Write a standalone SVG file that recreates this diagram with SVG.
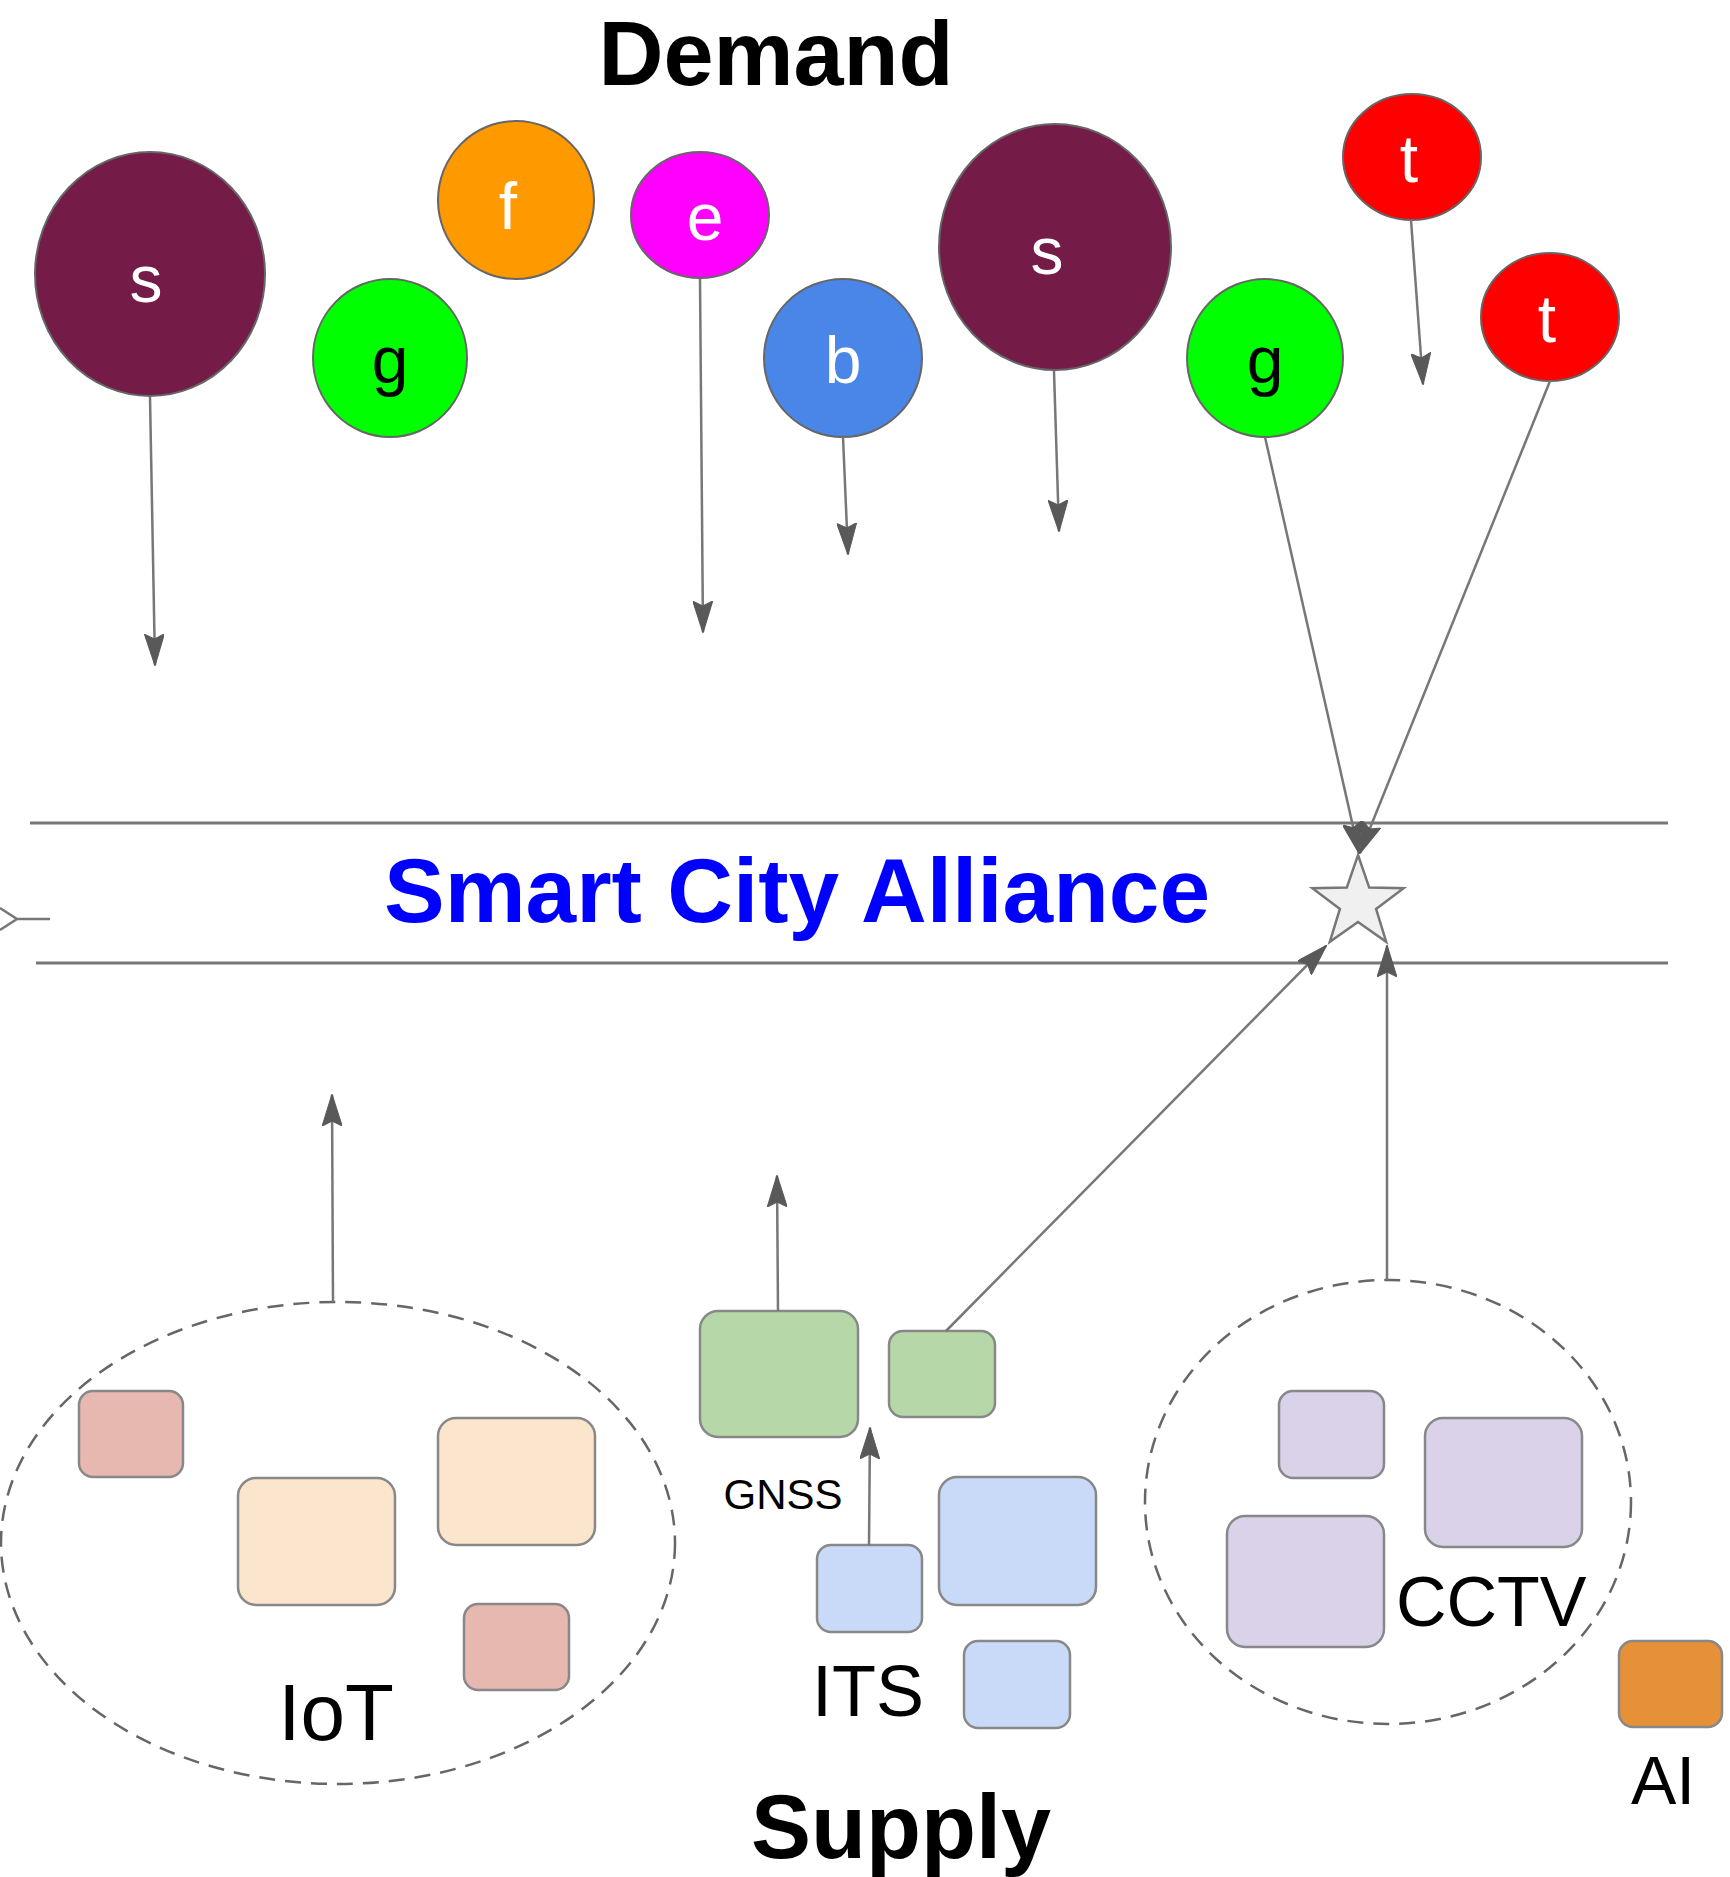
<svg xmlns="http://www.w3.org/2000/svg" width="1730" height="1877" viewBox="0 0 1730 1877">
<style>
.bg{fill:#ffffff}
.circ{stroke:#666666;stroke-width:2}
.lw{font-family:"Liberation Sans",Arial,sans-serif;font-size:66px;fill:#ffffff;text-anchor:middle}
.lb{font-family:"Liberation Sans",Arial,sans-serif;font-size:66px;fill:#000000;text-anchor:middle}
.conn{stroke:#777777;stroke-width:2.5;fill:none}
.band{stroke:#777777;stroke-width:3;fill:none}
.box{stroke:#888888;stroke-width:2.5}
.grp{fill:none;stroke:#666666;stroke-width:2.5;stroke-dasharray:16 10}
.title{font-family:"Liberation Sans",Arial,sans-serif;font-weight:bold;fill:#000000;text-anchor:middle}
.lab{font-family:"Liberation Sans",Arial,sans-serif;fill:#000000}
</style>
<defs>
<marker id="arr" markerUnits="userSpaceOnUse" viewBox="0 0 32 20" markerWidth="32" markerHeight="20" refX="31" refY="10" orient="auto">
<path d="M0,0 L32,10 L0,20 L5,10 Z" fill="#595959" stroke="#595959" stroke-width="1"/>
</marker>
</defs>
<rect class="bg" x="0" y="0" width="1730" height="1877"/>

<text id="demand" class="title" x="776" y="85" font-size="90">Demand</text>

<g id="band">
<line class="band" x1="30" y1="823" x2="1668" y2="823"/>
<line class="band" x1="36" y1="963" x2="1668" y2="963"/>
<text x="797" y="922" font-family="Liberation Sans, Arial, sans-serif" font-weight="bold" font-size="91" fill="#0000FF" text-anchor="middle">Smart City Alliance</text>
</g>

<g id="node-s1"><ellipse class="circ" cx="150" cy="274" rx="115" ry="122" fill="#741B47"/><text class="lw" x="146" y="302">s</text></g>
<g id="node-g1"><ellipse class="circ" cx="390" cy="358" rx="77" ry="79" fill="#00FF00"/><text class="lb" x="390" y="383">g</text></g>
<g id="node-f"><ellipse class="circ" cx="516" cy="200" rx="78" ry="79" fill="#FF9900"/><text class="lw" x="508" y="229">f</text></g>
<g id="node-e"><ellipse class="circ" cx="700" cy="215" rx="69" ry="63" fill="#FF00FF"/><text class="lw" x="705" y="240">e</text></g>
<g id="node-b"><ellipse class="circ" cx="843" cy="358" rx="79" ry="79" fill="#4A86E8"/><text class="lw" x="843" y="383">b</text></g>
<g id="node-s2"><ellipse class="circ" cx="1055" cy="247" rx="116" ry="123" fill="#741B47"/><text class="lw" x="1047" y="274">s</text></g>
<g id="node-g2"><ellipse class="circ" cx="1265" cy="358" rx="78" ry="79" fill="#00FF00"/><text class="lb" x="1265" y="383">g</text></g>
<g id="node-t1"><ellipse class="circ" cx="1412" cy="157" rx="69" ry="63" fill="#FF0000"/><text class="lw" x="1409" y="182">t</text></g>
<g id="node-t2"><ellipse class="circ" cx="1550" cy="317" rx="69" ry="64" fill="#FF0000"/><text class="lw" x="1547" y="342">t</text></g>

<g id="node-star"><polygon points="1358,855 1369.2,887.6 1403.6,888.2 1376.1,908.9 1386.2,941.8 1358,922 1329.8,941.8 1339.9,908.9 1312.4,888.2 1346.8,887.6" fill="#F0F0F0" stroke="#777777" stroke-width="2.5"/></g>

<g id="node-iot">
<ellipse class="grp" cx="338" cy="1543" rx="337" ry="241"/>
<rect class="box" x="79" y="1391" width="104" height="86" rx="14" fill="#E6B8AF"/>
<rect class="box" x="238" y="1478" width="157" height="127" rx="18" fill="#FCE5CD"/>
<rect class="box" x="438" y="1418" width="157" height="127" rx="18" fill="#FCE5CD"/>
<rect class="box" x="464" y="1604" width="105" height="86" rx="14" fill="#E6B8AF"/>
<text class="lab" x="336" y="1740" font-size="80" text-anchor="middle">IoT</text>
</g>

<g id="node-gnss">
<rect class="box" x="700" y="1311" width="158" height="126" rx="18" fill="#B6D7A8"/>
<rect class="box" x="889" y="1331" width="106" height="86" rx="14" fill="#B6D7A8"/>
<text class="lab" x="783" y="1509" font-size="42" text-anchor="middle">GNSS</text>
</g>

<g id="node-its">
<rect class="box" x="817" y="1545" width="105" height="87" rx="14" fill="#C9DAF8"/>
<rect class="box" x="939" y="1477" width="157" height="128" rx="18" fill="#C9DAF8"/>
<rect class="box" x="964" y="1641" width="106" height="87" rx="14" fill="#C9DAF8"/>
<text class="lab" x="868" y="1716" font-size="72" text-anchor="middle">ITS</text>
</g>

<g id="node-cctv">
<ellipse class="grp" cx="1388" cy="1502" rx="243" ry="222"/>
<rect class="box" x="1279" y="1391" width="105" height="87" rx="14" fill="#D9D2E9"/>
<rect class="box" x="1425" y="1418" width="157" height="129" rx="18" fill="#D9D2E9"/>
<rect class="box" x="1227" y="1516" width="157" height="131" rx="18" fill="#D9D2E9"/>
<text class="lab" x="1396" y="1626" font-size="70">CCTV</text>
</g>

<g id="node-ai">
<rect class="box" x="1619" y="1641" width="103" height="86" rx="14" fill="#E69138"/>
<text class="lab" x="1663" y="1804" font-size="68" text-anchor="middle">AI</text>
</g>

<text id="supply" class="title" x="901" y="1858" font-size="90">Supply</text>

<g id="connectors">
<line class="conn" x1="150" y1="397" x2="155" y2="665" marker-end="url(#arr)"/>
<line class="conn" x1="700" y1="279" x2="703" y2="632" marker-end="url(#arr)"/>
<line class="conn" x1="843" y1="437" x2="848" y2="554" marker-end="url(#arr)"/>
<line class="conn" x1="1054" y1="371" x2="1059" y2="531" marker-end="url(#arr)"/>
<line class="conn" x1="1411" y1="220" x2="1423" y2="384" marker-end="url(#arr)"/>
<line class="conn" x1="1265" y1="437" x2="1359" y2="853" marker-end="url(#arr)"/>
<line class="conn" x1="1550" y1="381" x2="1360" y2="853" marker-end="url(#arr)"/>
<line class="conn" x1="333" y1="1302" x2="332" y2="1095" marker-end="url(#arr)"/>
<line class="conn" x1="778" y1="1311" x2="777" y2="1176" marker-end="url(#arr)"/>
<line class="conn" x1="869" y1="1545" x2="870" y2="1428" marker-end="url(#arr)"/>
<line class="conn" x1="946" y1="1331" x2="1326" y2="946" marker-end="url(#arr)"/>
<line class="conn" x1="1387" y1="1280" x2="1387" y2="946" marker-end="url(#arr)"/>
<path class="conn" d="M0,908 L17,919 L0,930 M17,919 L50,919"/>
</g>
</svg>
